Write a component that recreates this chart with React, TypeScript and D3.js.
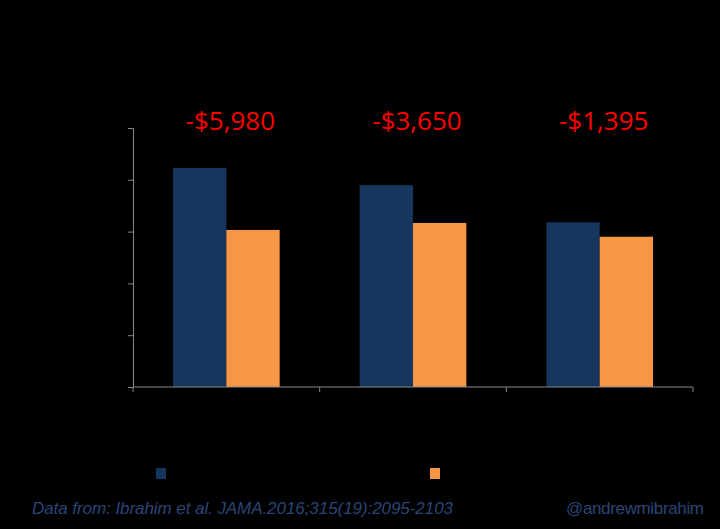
// @ts-nocheck
import { useRef, useEffect } from "react";
import * as d3 from "d3";

const categories = ["A", "B", "C"];
const seriesNames = ["Before", "After"];
const beforeValues = [21140, 19480, 15900];
const afterValues = [15160, 15830, 14505];
const diffLabels = ["-$5,980", "-$3,650", "-$1,395"];
const yTicks = [0, 5000, 10000, 15000, 20000, 25000];
const colors = ["#17365d", "#f79646"];

const App = () => {
  const svgRef = useRef();
  const width = 720;
  const height = 529;

  useEffect(() => {
    const svg = d3.select(svgRef.current);
    svg.selectAll("*").remove();

    const margin = { top: 128, right: 27, bottom: 142, left: 133 };
    const chartWidth = width - margin.left - margin.right;
    const chartHeight = height - margin.top - margin.bottom;

    svg.append("rect").attr("width", width).attr("height", height).attr("fill", "#000");

    const x0 = d3.scaleBand().domain(categories).range([0, chartWidth]).padding(0);
    const x1 = d3
      .scaleBand()
      .domain(seriesNames)
      .range([0, x0.bandwidth()])
      .paddingInner(0)
      .paddingOuter(0.75);
    const y = d3.scaleLinear().domain([0, 25000]).range([chartHeight, 0]);

    const chart = svg
      .append("g")
      .attr("transform", `translate(${margin.left},${margin.top})`);

    const rows = categories.map((c, i) => ({
      cat: c,
      values: [beforeValues[i], afterValues[i]],
      label: diffLabels[i],
    }));

    const groups = chart
      .selectAll(".grp")
      .data(rows)
      .enter()
      .append("g")
      .attr("transform", (d) => `translate(${x0(d.cat)},0)`);

    groups
      .selectAll("rect")
      .data((d) => d.values.map((v, j) => ({ key: seriesNames[j], v, j })))
      .enter()
      .append("rect")
      .attr("x", (d) => x1(d.key))
      .attr("y", (d) => y(d.v))
      .attr("width", x1.bandwidth())
      .attr("height", (d) => chartHeight - y(d.v))
      .attr("fill", (d) => colors[d.j]);

    groups
      .append("text")
      .attr("x", x0.bandwidth() / 2 + 4)
      .attr("y", 2)
      .attr("text-anchor", "middle")
      .attr("fill", "#ff0000")
      .attr("font-family", "Open Sans, sans-serif")
      .attr("font-size", 26)
      .text((d) => d.label);

    // y axis (labels are black on black, like the original)
    const yAxis = chart
      .append("g")
      .call(d3.axisLeft(y).tickValues(yTicks).tickSize(5).tickFormat((d) => `$${d3.format(",")(d)}`));
    yAxis.select(".domain").attr("stroke", "#888");
    yAxis.selectAll(".tick line").attr("stroke", "#888");
    yAxis.selectAll(".tick text").attr("fill", "#000");

    // x axis with ticks between categories
    const xAxis = chart.append("g").attr("transform", `translate(0,${chartHeight})`);
    xAxis
      .append("line")
      .attr("x1", 0)
      .attr("x2", chartWidth)
      .attr("stroke", "#888");
    xAxis
      .selectAll(".sep")
      .data([0, ...categories.map((c) => x0(c) + x0.bandwidth())])
      .enter()
      .append("line")
      .attr("x1", (d) => d)
      .attr("x2", (d) => d)
      .attr("y1", 0)
      .attr("y2", 5)
      .attr("stroke", "#888");

    // legend
    const legendX = [156, 430];
    seriesNames.forEach((s, i) => {
      svg
        .append("rect")
        .attr("x", legendX[i])
        .attr("y", 468)
        .attr("width", 10)
        .attr("height", 11)
        .attr("fill", colors[i]);
    });

    // footer
    svg
      .append("text")
      .attr("x", 32)
      .attr("y", 514)
      .attr("fill", "#2a4676")
      .attr("font-family", "Liberation Sans, Arial, sans-serif")
      .attr("font-style", "italic")
      .attr("font-size", 17)
      .attr("textLength", 421)
      .text("Data from: Ibrahim et al. JAMA.2016;315(19):2095-2103");
    svg
      .append("text")
      .attr("x", 704)
      .attr("y", 514)
      .attr("text-anchor", "end")
      .attr("fill", "#2a4676")
      .attr("font-family", "Liberation Sans, Arial, sans-serif")
      .attr("font-size", 17)
      .attr("textLength", 138)
      .text("@andrewmibrahim");
  }, []);

  return (
    <div style={{ position: "fixed", left: 0, top: 0, width, height, background: "#000" }}>
      <svg ref={svgRef} width={width} height={height} style={{ display: "block" }}></svg>
    </div>
  );
};

export default App;
